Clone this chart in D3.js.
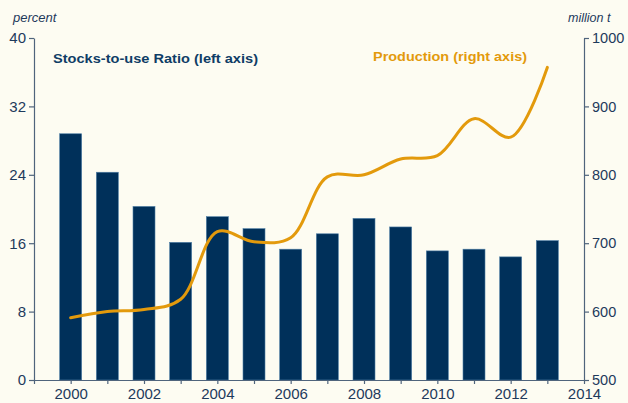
<!DOCTYPE html>
<html>
<head>
<meta charset="utf-8">
<script src="https://cdn.jsdelivr.net/npm/d3@7"></script>
<style>
  html, body { margin: 0; padding: 0; background: #FDFCF2; }
  svg { display: block; }
</style>
</head>
<body>
<script>
const years = [2000, 2001, 2002, 2003, 2004, 2005, 2006, 2007, 2008, 2009, 2010, 2011, 2012, 2013];
const stocksToUse = [28.8, 24.3, 20.3, 16.1, 19.1, 17.7, 15.3, 17.1, 18.9, 17.9, 15.1, 15.3, 14.4, 16.3];
const production = [591, 600, 603, 618, 717, 702, 708, 797, 800, 823, 828, 882, 855, 957];
const leftTicks = [0, 8, 16, 24, 32, 40];
const rightTicks = [500, 600, 700, 800, 900, 1000];
const xTickLabels = [2000, 2002, 2004, 2006, 2008, 2010, 2012, 2014];

const W = 628, H = 403;
const svg = d3.select("body").append("svg").attr("width", W).attr("height", H);
svg.append("rect").attr("width", W).attr("height", H).attr("fill", "#FDFCF2");

const x = d3.scaleLinear().domain([1999, 2014]).range([34, 584]);
const yL = d3.scaleLinear().domain([0, 40]).range([380, 38]);
const yR = d3.scaleLinear().domain([500, 1000]).range([380, 38]);

const axisColor = "#4F647C";
const textColor = "#1E3A5C";
const barW = (x(2001) - x(2000)) * 0.6;

// bars
svg.append("g").selectAll("rect").data(years).join("rect")
  .attr("x", (d) => x(d) - barW / 2)
  .attr("width", barW)
  .attr("y", (d, i) => yL(stocksToUse[i]))
  .attr("height", (d, i) => yL(0) - yL(stocksToUse[i]))
  .attr("fill", "#00305A")
  .attr("stroke", "#4F7FA6")
  .attr("stroke-width", 0.6);

// line
const line = d3.line()
  .x((d) => x(d[0]))
  .y((d) => yR(d[1]))
  .curve(d3.curveCatmullRom.alpha(0.5));
svg.append("path")
  .datum(years.map((y, i) => [y, production[i]]))
  .attr("d", line)
  .attr("fill", "none")
  .attr("stroke", "#E39A0C")
  .attr("stroke-width", 3)
  .attr("stroke-linecap", "round");

function styleAxis(g, size) {
  g.select(".domain").attr("stroke", axisColor).attr("stroke-width", 1.2);
  g.selectAll(".tick line").attr("stroke", axisColor).attr("stroke-width", 1.2);
  g.selectAll(".tick text").attr("fill", textColor)
    .attr("font-family", "Liberation Sans, Arial, sans-serif")
    .attr("font-size", size || 15);
}

// left axis
svg.append("g").attr("transform", `translate(${x(1999)},0)`)
  .call(d3.axisLeft(yL).tickValues(leftTicks).tickSize(5).tickPadding(3).tickSizeOuter(0))
  .call(styleAxis, 15);

// right axis
svg.append("g").attr("transform", `translate(${x(2014)},0)`)
  .call(d3.axisRight(yR).tickValues(rightTicks).tickSize(5).tickPadding(3).tickSizeOuter(0)
    .tickFormat(d3.format("d")))
  .call(styleAxis, 14.5);

// bottom axis: ticks every year, labels every two years
const bottom = svg.append("g").attr("transform", `translate(0,${yL(0)})`)
  .call(d3.axisBottom(x).tickValues(d3.range(1999, 2015)).tickSize(4).tickPadding(6).tickSizeOuter(0)
    .tickFormat((d) => xTickLabels.includes(d) ? String(d) : ""))
  .call(styleAxis, 15);
bottom.selectAll(".tick text").attr("dy", "0.62em");

// axis unit titles
svg.append("text").attr("x", 13).attr("y", 22).text("percent")
  .attr("font-family", "Liberation Sans, Arial, sans-serif").attr("font-size", 13)
  .attr("font-style", "italic").attr("fill", textColor);
svg.append("text").attr("x", 568).attr("y", 22).text("million t")
  .attr("font-family", "Liberation Sans, Arial, sans-serif").attr("font-size", 12.5)
  .attr("font-style", "italic").attr("fill", textColor);

// series labels
svg.append("text").attr("x", 53).attr("y", 63).text("Stocks-to-use Ratio (left axis)")
  .attr("font-family", "Liberation Sans, Arial, sans-serif").attr("font-size", 13.5)
  .attr("font-weight", "bold").attr("fill", "#0F3D66")
  .attr("textLength", 205).attr("lengthAdjust", "spacingAndGlyphs");
svg.append("text").attr("x", 373).attr("y", 61).text("Production (right axis)")
  .attr("font-family", "Liberation Sans, Arial, sans-serif").attr("font-size", 13.5)
  .attr("font-weight", "bold").attr("fill", "#E39A0C")
  .attr("textLength", 154).attr("lengthAdjust", "spacingAndGlyphs");
</script>
</body>
</html>
